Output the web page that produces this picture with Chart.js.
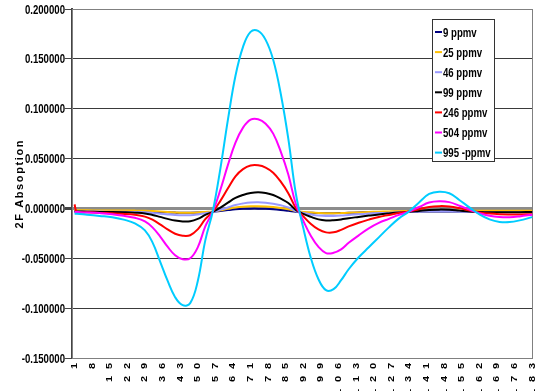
<!DOCTYPE html>
<html lang="en">
<head>
    <meta charset="UTF-8">
    <title>2F Absorption</title>
    <script src="https://cdn.jsdelivr.net/npm/chart.js@4.4.1/dist/chart.umd.min.js"></script>
    <style>
        body {
            margin: 0;
            padding: 0;
            background: #ffffff;
        }
        .chart-box {
            position: relative;
            width: 539px;
            height: 391px;
        }
    </style>
</head>
<body>
    <div class="chart-box">
        <canvas id="absChart"></canvas>
    </div>

    <script>
        // sample positions along the scan (index 1..183)
        const xPoints = [1, 2, 6, 11, 16, 21, 25, 29, 32, 35, 38, 41, 44, 47, 50, 53, 56, 59, 62, 65, 68, 71, 74, 77, 80, 83, 86, 89,
            92, 95, 98, 101, 104, 107, 110, 114, 118, 122, 126, 130, 134, 138, 142, 146, 150, 154, 158, 162, 166, 170, 174, 178, 183];

        const xTickLabels = [1, 8, 15, 22, 29, 36, 43, 50, 57, 64, 71, 78, 85, 92, 99, 106, 113, 120, 127, 134, 141, 148, 155, 162, 169, 176, 183];

        const seriesNames = ['9 ppmv', '25 ppmv', '46 ppmv', '99 ppmv', '246 ppmv', '504 ppmv', '995 -ppmv'];
        const seriesColors = ['#000080', '#FFC000', '#9999FF', '#000000', '#FF0000', '#FF00FF', '#00CCFF'];

        const ppmv9 = [-0.0028, -0.0028, -0.0029, -0.0030, -0.0030, -0.0030, -0.0031, -0.0032, -0.0034, -0.0036, -0.0039, -0.0042, -0.0044, -0.0044, -0.0042, -0.0038, -0.0034, -0.0026, -0.0017, -0.0009, -0.0004, -0.0002, -0.0002, -0.0004, -0.0008, -0.0015, -0.0024, -0.0034,
            -0.0040, -0.0044, -0.0047, -0.0048, -0.0048, -0.0046, -0.0044, -0.0041, -0.0038, -0.0036, -0.0035, -0.0034, -0.0033, -0.0032, -0.0031, -0.0030, -0.0030, -0.0031, -0.0032, -0.0033, -0.0033, -0.0033, -0.0033, -0.0033, -0.0032];
        const ppmv25 = [-0.0018, -0.0018, -0.0019, -0.0020, -0.0020, -0.0021, -0.0022, -0.0024, -0.0027, -0.0031, -0.0036, -0.0040, -0.0043, -0.0043, -0.0040, -0.0035, -0.0030, -0.0018, -0.0004, 0.0009, 0.0017, 0.0021, 0.0022, 0.0020, 0.0014, 0.0005, -0.0008, -0.0025,
            -0.0035, -0.0042, -0.0047, -0.0049, -0.0049, -0.0047, -0.0044, -0.0040, -0.0036, -0.0033, -0.0030, -0.0028, -0.0026, -0.0024, -0.0022, -0.0021, -0.0021, -0.0022, -0.0023, -0.0024, -0.0024, -0.0024, -0.0024, -0.0024, -0.0024];
        const ppmv46 = [-0.0030, -0.0030, -0.0031, -0.0032, -0.0033, -0.0034, -0.0036, -0.0039, -0.0045, -0.0053, -0.0060, -0.0066, -0.0069, -0.0068, -0.0060, -0.0048, -0.0035, -0.0013, 0.0010, 0.0035, 0.0050, 0.0060, 0.0062, 0.0058, 0.0048, 0.0032, 0.0010, -0.0027,
            -0.0045, -0.0060, -0.0071, -0.0076, -0.0075, -0.0071, -0.0065, -0.0058, -0.0052, -0.0047, -0.0043, -0.0039, -0.0035, -0.0030, -0.0026, -0.0025, -0.0026, -0.0030, -0.0034, -0.0036, -0.0038, -0.0039, -0.0039, -0.0038, -0.0037];
        const ppmv99 = [-0.0030, -0.0030, -0.0033, -0.0035, -0.0036, -0.0039, -0.0043, -0.0050, -0.0065, -0.0085, -0.0105, -0.0122, -0.0130, -0.0128, -0.0105, -0.0065, -0.0034, 0.0008, 0.0058, 0.0105, 0.0135, 0.0155, 0.0163, 0.0155, 0.0135, 0.0098, 0.0055, -0.0015,
            -0.0055, -0.0085, -0.0110, -0.0120, -0.0118, -0.0110, -0.0098, -0.0085, -0.0072, -0.0060, -0.0050, -0.0041, -0.0034, -0.0025, -0.0016, -0.0012, -0.0014, -0.0022, -0.0030, -0.0035, -0.0038, -0.0039, -0.0039, -0.0038, -0.0036];
        const ppmv246 = [0.0040, -0.0033, -0.0039, -0.0045, -0.0049, -0.0055, -0.0064, -0.0082, -0.0113, -0.0159, -0.0210, -0.0254, -0.0274, -0.0269, -0.0210, -0.0108, -0.0033, 0.0076, 0.0202, 0.0322, 0.0394, 0.0430, 0.0432, 0.0410, 0.0358, 0.0268, 0.0153, 0.0005,
            -0.0080, -0.0156, -0.0211, -0.0240, -0.0240, -0.0215, -0.0180, -0.0143, -0.0112, -0.0085, -0.0065, -0.0045, -0.0030, -0.0008, 0.0015, 0.0023, 0.0020, 0.0003, -0.0022, -0.0040, -0.0052, -0.0058, -0.0060, -0.0060, -0.0058];
        const ppmv504 = [-0.0035, -0.0036, -0.0040, -0.0047, -0.0058, -0.0076, -0.0094, -0.0130, -0.0190, -0.0280, -0.0384, -0.0470, -0.0510, -0.0500, -0.0390, -0.0180, -0.0030, 0.0187, 0.0437, 0.0660, 0.0810, 0.0890, 0.0895, 0.0850, 0.0750, 0.0570, 0.0340, 0.0044,
            -0.0126, -0.0277, -0.0386, -0.0448, -0.0445, -0.0410, -0.0345, -0.0270, -0.0200, -0.0145, -0.0105, -0.0065, -0.0032, 0.0014, 0.0059, 0.0072, 0.0063, 0.0027, -0.0012, -0.0048, -0.0074, -0.0087, -0.0089, -0.0080, -0.0063];
        const ppmv995 = [-0.0052, -0.0053, -0.0063, -0.0075, -0.0088, -0.0115, -0.0150, -0.0220, -0.0340, -0.0530, -0.0725, -0.0890, -0.0970, -0.0950, -0.0730, -0.0320, -0.0025, 0.0400, 0.0890, 0.1330, 0.1620, 0.1770, 0.1780, 0.1690, 0.1490, 0.1150, 0.0700, 0.0150,
            -0.0200, -0.0500, -0.0710, -0.0820, -0.0810, -0.0720, -0.0610, -0.0490, -0.0390, -0.0290, -0.0190, -0.0100, -0.0030, 0.0060, 0.0145, 0.0167, 0.0152, 0.0085, 0.0010, -0.0060, -0.0110, -0.0135, -0.0137, -0.0120, -0.0087];

        const allSeries = [ppmv9, ppmv25, ppmv46, ppmv99, ppmv246, ppmv504, ppmv995];

        const FONT = "'Liberation Sans', Arial, sans-serif";
        const SQUEEZE = 0.74;   // the original text is tall and narrow

        function isZero(v) {
            return Math.abs(v) < 1e-9;
        }

        function narrowText(ctx, text, x, y, align) {
            ctx.save();
            ctx.translate(x, y);
            ctx.scale(SQUEEZE, 1);
            ctx.textAlign = align;
            ctx.fillText(text, 0, 0);
            ctx.restore();
        }

        // plot frame, tick labels, y title and legend box
        const extrasPlugin = {
            id: 'extras',
            beforeDatasetsDraw(chart) {
                const ctx = chart.ctx;
                const a = chart.chartArea;
                ctx.save();
                ctx.strokeStyle = '#808080';
                ctx.lineWidth = 1;
                ctx.strokeRect(a.left + 0.5, a.top + 0.5, a.right - a.left - 1, a.bottom - a.top);
                ctx.restore();
            },
            afterDraw(chart) {
                const ctx = chart.ctx;
                const a = chart.chartArea;
                const xs = chart.scales.x;
                const ys = chart.scales.y;

                // y tick labels
                ctx.save();
                ctx.font = 'bold 13px ' + FONT;
                ctx.fillStyle = '#000';
                ctx.textBaseline = 'middle';
                ys.ticks.forEach(t => {
                    const v = isZero(t.value) ? 0 : t.value;
                    narrowText(ctx, v.toFixed(6), a.left - 7, ys.getPixelForValue(t.value) + 1, 'right');
                });
                ctx.restore();

                // x tick labels, read bottom to top, spaced out
                ctx.save();
                ctx.font = 'bold 11px ' + FONT;
                ctx.fillStyle = '#000';
                ctx.textAlign = 'right';
                ctx.textBaseline = 'middle';
                xTickLabels.forEach(v => {
                    const s = String(v);
                    const px = xs.getPixelForValue(v);
                    for (let k = 0; k < s.length; k++) {
                        const top = a.bottom + 5 + (s.length - 1 - k) * 13;
                        ctx.save();
                        ctx.translate(px, top);
                        ctx.rotate(-Math.PI / 2);
                        ctx.scale(1, 0.8);
                        ctx.fillText(s[k], 0, 0);
                        ctx.restore();
                    }
                });
                ctx.restore();

                // y axis title, letters spaced out
                ctx.save();
                ctx.font = 'bold 11px ' + FONT;
                ctx.fillStyle = '#000';
                ctx.textAlign = 'left';
                ctx.textBaseline = 'middle';
                const title = '2F Absoption';
                const gap = 1.6;
                let total = 0;
                for (const ch of title) total += ctx.measureText(ch).width + gap;
                total -= gap;
                ctx.translate(20, (a.top + a.bottom) / 2 + 1);
                ctx.rotate(-Math.PI / 2);
                let pos = -total / 2;
                for (const ch of title) {
                    ctx.fillText(ch, pos, 0);
                    pos += ctx.measureText(ch).width + gap;
                }
                ctx.restore();

                // legend
                const lx = a.right - 101;
                const ly = a.top + 10;
                ctx.save();
                ctx.fillStyle = '#fff';
                ctx.fillRect(lx, ly, 62, 142);
                ctx.strokeStyle = '#333';
                ctx.lineWidth = 1;
                ctx.strokeRect(lx + 0.5, ly + 0.5, 62, 142);
                ctx.font = 'bold 13px ' + FONT;
                ctx.textBaseline = 'middle';
                chart.data.datasets.forEach((ds, k) => {
                    const y = ly + 13 + k * 20.1;
                    ctx.strokeStyle = ds.borderColor;
                    ctx.lineWidth = 2;
                    ctx.beginPath();
                    ctx.moveTo(lx + 3, y);
                    ctx.lineTo(lx + 10, y);
                    ctx.stroke();
                    ctx.fillStyle = '#000';
                    narrowText(ctx, ds.label, lx + 11, y + 1, 'left');
                });
                ctx.restore();
            }
        };

        const ctx = document.getElementById('absChart').getContext('2d');
        new Chart(ctx, {
            type: 'line',
            data: {
                datasets: allSeries.map((vals, k) => ({
                    label: seriesNames[k],
                    data: vals.map((v, j) => ({ x: xPoints[j], y: v })),
                    borderColor: seriesColors[k],
                    backgroundColor: seriesColors[k],
                    borderWidth: 2,
                    pointRadius: 0,
                    tension: 0.4,
                    fill: false,
                    order: allSeries.length - k
                }))
            },
            options: {
                responsive: true,
                maintainAspectRatio: false,
                animation: false,
                devicePixelRatio: 1,
                layout: {
                    padding: { top: 9, right: 6, left: 0, bottom: 0 }
                },
                plugins: {
                    legend: { display: false },
                    tooltip: { enabled: false }
                },
                scales: {
                    x: {
                        type: 'linear',
                        min: 0,
                        max: 183.3,
                        afterBuildTicks: s => {
                            s.ticks = xTickLabels.map(v => ({ value: v }));
                        },
                        afterFit: s => {
                            s.height = 33;
                        },
                        grid: { display: false },
                        border: { display: false },
                        ticks: { display: false }
                    },
                    y: {
                        min: -0.15,
                        max: 0.2,
                        afterFit: s => {
                            s.width = 72;
                        },
                        ticks: {
                            stepSize: 0.05,
                            display: false
                        },
                        grid: {
                            drawTicks: true,
                            tickLength: 7,
                            tickColor: '#444',
                            color: c => {
                                const v = c.tick.value;
                                if (isZero(v)) return '#8c8c8c';
                                if (v > 0.19 || v < -0.14) return '#808080';
                                return '#3a3a3a';
                            },
                            lineWidth: c => isZero(c.tick.value) ? 3 : 1
                        },
                        border: { display: true, color: '#444', width: 2 }
                    }
                }
            },
            plugins: [extrasPlugin]
        });
    </script>
</body>
</html>
